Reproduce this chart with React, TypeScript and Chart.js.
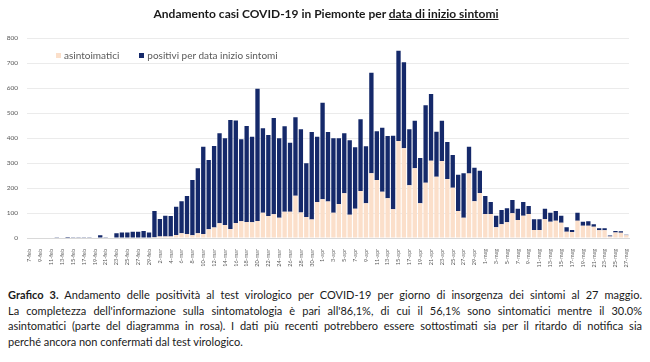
import React, { useEffect, useRef } from 'react';
import { Chart, registerables } from 'chart.js';

Chart.register(...registerables);

const CATEGORIES = [
  '7-feb','8-feb','9-feb','10-feb','11-feb','12-feb','13-feb','14-feb','15-feb','16-feb','17-feb','18-feb','19-feb','20-feb','21-feb','22-feb','23-feb','24-feb','25-feb','26-feb','27-feb','28-feb','29-feb',
  '1-mar','2-mar','3-mar','4-mar','5-mar','6-mar','7-mar','8-mar','9-mar','10-mar','11-mar','12-mar','13-mar','14-mar','15-mar','16-mar','17-mar','18-mar','19-mar','20-mar','21-mar','22-mar','23-mar','24-mar','25-mar','26-mar','27-mar','28-mar','29-mar','30-mar','31-mar',
  '1-apr','2-apr','3-apr','4-apr','5-apr','6-apr','7-apr','8-apr','9-apr','10-apr','11-apr','12-apr','13-apr','14-apr','15-apr','16-apr','17-apr','18-apr','19-apr','20-apr','21-apr','22-apr','23-apr','24-apr','25-apr','26-apr','27-apr','28-apr','29-apr','30-apr',
  '1-mag','2-mag','3-mag','4-mag','5-mag','6-mag','7-mag','8-mag','9-mag','10-mag','11-mag','12-mag','13-mag','14-mag','15-mag','16-mag','17-mag','18-mag','19-mag','20-mag','21-mag','22-mag','23-mag','24-mag','25-mag','26-mag','27-mag',
];

const ASINTOMATICI = [
  0,0,0,0,0,0,0,0,0,0,0,0,0,0,0,0,0,0,0,0,0,0,0,
  3,6,6,6,12,19,16,11,19,16,35,42,59,52,36,60,67,64,63,68,101,88,95,81,105,105,169,102,84,74,144,
  155,146,101,136,179,93,117,188,139,259,232,185,159,115,388,359,211,279,139,221,309,245,308,236,201,108,81,258,147,180,
  96,96,43,55,63,99,72,89,96,32,32,75,65,69,61,25,24,69,49,49,45,31,31,6,22,21,11,
];

const SINTOMATICI = [
  2,0,0,2,2,1,0,4,1,1,3,3,0,11,1,2,19,22,22,25,25,28,22,
  105,70,83,82,113,128,152,221,260,349,277,326,360,347,436,410,328,384,342,529,338,324,385,318,342,276,314,333,215,350,261,
  386,278,298,263,240,298,246,287,228,402,195,256,249,294,361,344,224,190,181,310,267,180,161,148,131,145,178,107,134,89,
  72,48,46,57,56,53,45,55,32,43,43,42,36,39,28,18,8,32,16,18,10,8,8,4,6,6,2,
];

const SERIES_NAMES = ['asintoimatici', 'positivi per data inizio sintomi'];
const Y_MAX = 800;
const Y_STEP = 100;

const PINK = '#fbdfca';
const NAVY = '#15296a';
const FONT = 'Lato, "Open Sans", sans-serif';
const TEXT = '#595959';

const CAPTION_LINES = [
  'Andamento delle positività al test virologico per COVID-19 per giorno di insorgenza dei sintomi al 27 maggio.',
  'La completezza dell\'informazione sulla sintomatologia è pari all\'86,1%, di cui il 56,1% sono sintomatici mentre il 30.0%',
  'asintomatici (parte del diagramma in rosa). I dati più recenti potrebbero essere sottostimati sia per il ritardo di notifica sia',
  'perché ancora non confermati dal test virologico.',
];

export default function App() {
  const ref = useRef<HTMLCanvasElement>(null);

  useEffect(() => {
    const chart = new Chart(ref.current!, {
      type: 'bar',
      data: {
        labels: CATEGORIES,
        datasets: [
          {
            label: SERIES_NAMES[0],
            data: ASINTOMATICI,
            backgroundColor: PINK,
            stack: 's',
            categoryPercentage: 0.8,
            barPercentage: 1,
          },
          {
            label: SERIES_NAMES[1],
            data: SINTOMATICI,
            backgroundColor: NAVY,
            stack: 's',
            categoryPercentage: 0.8,
            barPercentage: 1,
          },
        ],
      },
      options: {
        responsive: false,
        animation: false,
        layout: { padding: { left: 0, right: 21, top: 38, bottom: 0 } },
        plugins: {
          legend: { display: false },
          title: { display: false },
          tooltip: { enabled: false },
        },
        scales: {
          x: {
            stacked: true,
            grid: { display: false },
            border: { color: '#d9d9d9' },
            ticks: {
              autoSkip: false,
              maxRotation: 90,
              minRotation: 90,
              padding: 3,
              color: TEXT,
              font: { family: FONT, size: 5.5 },
              callback: (_v: any, i: number) => (i % 2 === 0 ? CATEGORIES[i] : ''),
            },
            afterFit: (s: any) => { s.height = 32; },
          },
          y: {
            stacked: true,
            min: 0,
            max: Y_MAX,
            ticks: {
              stepSize: Y_STEP,
              padding: 9,
              color: TEXT,
              font: { family: FONT, size: 6.5 },
            },
            grid: { color: '#ebebeb', drawTicks: false },
            border: { display: false },
            afterFit: (s: any) => { s.width = 27; },
          },
        },
      },
    });
    return () => chart.destroy();
  }, []);

  return (
    <div style={{ position: 'absolute', left: 0, top: 0, width: 650, height: 362, background: '#fff', fontFamily: FONT, overflow: 'hidden' }}>
      <canvas ref={ref} width={650} height={270} style={{ position: 'absolute', left: 0, top: 0, width: 650, height: 270 }} />
      <div style={{ position: 'absolute', left: 0, top: 6, width: 652, textAlign: 'center', fontWeight: 700, fontSize: 12, color: '#1a1a1a', lineHeight: '16px' }}>
        Andamento casi COVID-19 in Piemonte per <span style={{ textDecoration: 'underline' }}>data di inizio sintomi</span>
      </div>
      <div style={{ position: 'absolute', left: 56, top: 48, height: 14, display: 'flex', alignItems: 'center', fontSize: 10, color: TEXT, whiteSpace: 'nowrap' }}>
        <span style={{ display: 'inline-block', width: 5, height: 5, background: PINK, marginRight: 3 }} />
        <span style={{ marginRight: 20 }}>{SERIES_NAMES[0]}</span>
        <span style={{ display: 'inline-block', width: 5, height: 5, background: NAVY, marginRight: 3 }} />
        <span>{SERIES_NAMES[1]}</span>
      </div>
      <div style={{ position: 'absolute', left: 8, top: 287, width: 634, fontSize: 11, lineHeight: '15.7px', color: '#1a1a1a' }}>
        {CAPTION_LINES.map((line, i) => (
          <div key={i} style={{ textAlign: 'justify', textAlignLast: i < CAPTION_LINES.length - 1 ? 'justify' : 'left', whiteSpace: 'nowrap' } as any}>
            {i === 0 ? <><b>Grafico 3.</b> {line}</> : line}
          </div>
        ))}
      </div>
    </div>
  );
}
